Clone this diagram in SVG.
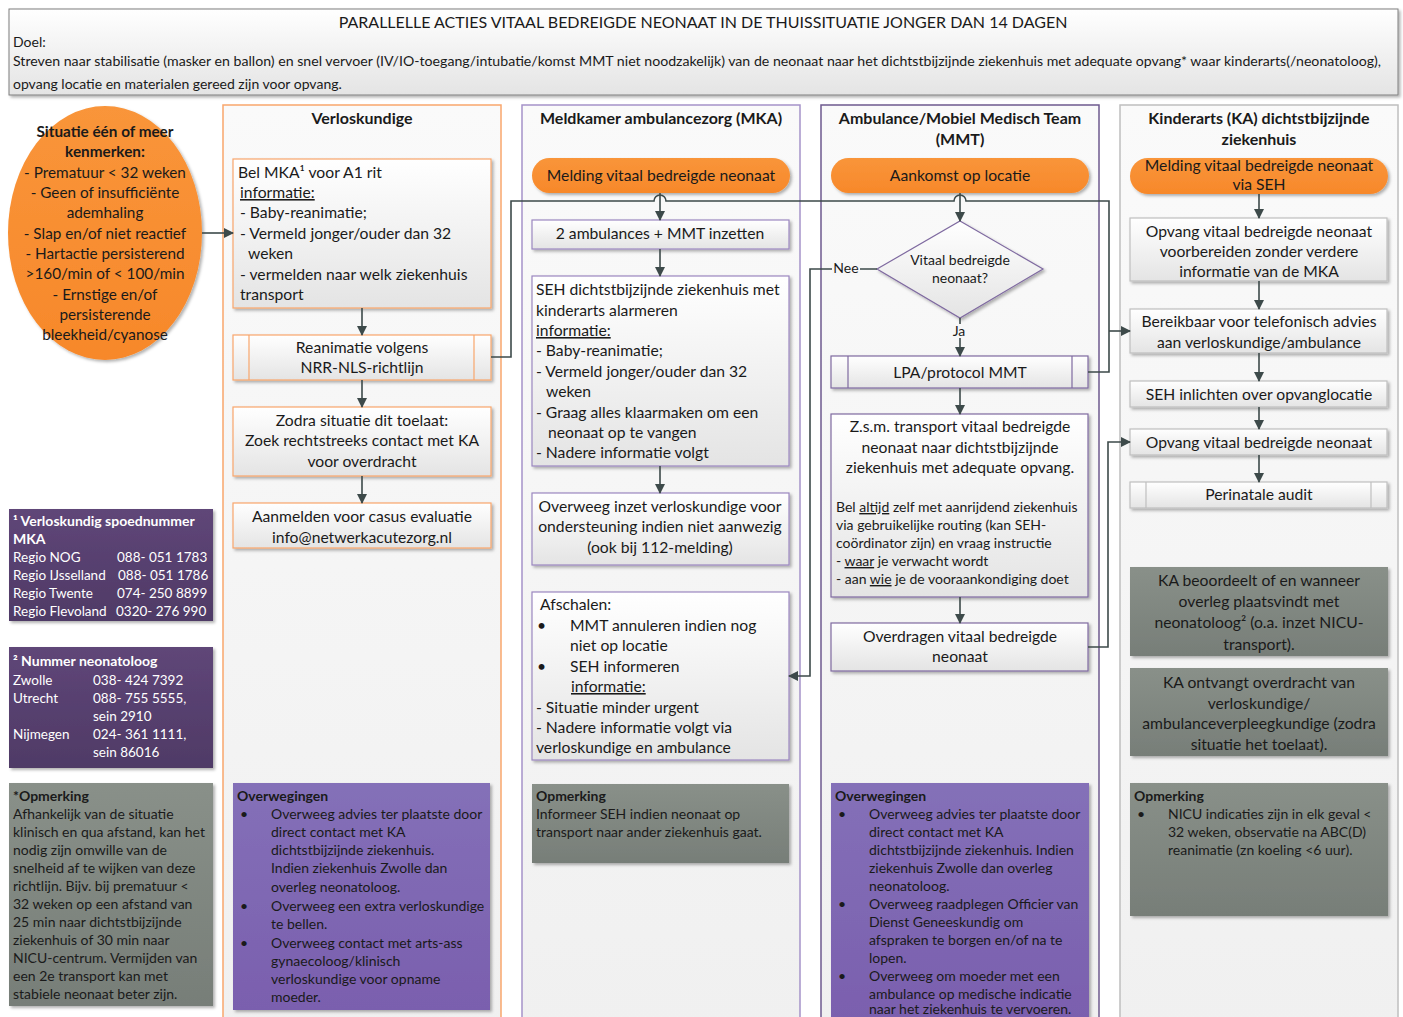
<svg xmlns="http://www.w3.org/2000/svg" width="1403" height="1017" viewBox="0 0 1403 1017">
<defs>
<linearGradient id="gBox" x1="0" y1="0" x2="0" y2="1"><stop offset="0" stop-color="#ffffff"/><stop offset="1" stop-color="#e4e4e4"/></linearGradient>
<linearGradient id="gLane" x1="0" y1="0" x2="0" y2="1"><stop offset="0" stop-color="#fafafa"/><stop offset="1" stop-color="#f0f0f0"/></linearGradient>
<linearGradient id="gOr" x1="0" y1="0" x2="0" y2="1"><stop offset="0" stop-color="#f9953a"/><stop offset="1" stop-color="#f7882a"/></linearGradient>
<linearGradient id="gPur" x1="0" y1="0" x2="0" y2="1"><stop offset="0" stop-color="#8470b8"/><stop offset="1" stop-color="#7a5fae"/></linearGradient>
<linearGradient id="gDark" x1="0" y1="0" x2="0" y2="1"><stop offset="0" stop-color="#5f4678"/><stop offset="1" stop-color="#4f3a66"/></linearGradient>
<linearGradient id="gGray" x1="0" y1="0" x2="0" y2="1"><stop offset="0" stop-color="#899089"/><stop offset="1" stop-color="#777e78"/></linearGradient>
<filter id="sh" x="-10%" y="-10%" width="130%" height="130%"><feDropShadow dx="2" dy="2" stdDeviation="1.5" flood-color="#000" flood-opacity="0.3"/></filter>
<marker id="ah" viewBox="0 0 10 10" refX="9" refY="5" markerWidth="10" markerHeight="10" markerUnits="userSpaceOnUse" orient="auto"><path d="M0,0 L10,5 L0,10 z" fill="#3d4a4a"/></marker>
</defs>
<style>
text{font-family:Lato,"Open Sans","Liberation Sans",sans-serif;fill:#1a1a1a;font-size:15.7px}
.c{text-anchor:middle}
.b{font-weight:bold}
.s{font-size:14px}
.lg{font-size:13.5px}
.e{font-size:15.3px}
.w{fill:#ffffff}
.u{text-decoration:underline}
.lane{fill:url(#gLane)}
.bo{fill:url(#gBox);stroke:#f9a66c;stroke-width:1.2;filter:url(#sh)}
.bp{fill:url(#gBox);stroke:#9b87c0;stroke-width:1.2;filter:url(#sh)}
.bm{fill:url(#gBox);stroke:#7f6aa0;stroke-width:1.2;filter:url(#sh)}
.bg{fill:url(#gBox);stroke:#bfbfbf;stroke-width:1.2;filter:url(#sh)}
.pill{fill:url(#gOr);filter:url(#sh)}
.np{fill:url(#gPur);filter:url(#sh)}
.nd{fill:url(#gDark);filter:url(#sh)}
.ng{fill:url(#gGray);filter:url(#sh)}
.cn{fill:none;stroke:#3d4a4a;stroke-width:1.6}
.ca{fill:none;stroke:#3d4a4a;stroke-width:1.6;marker-end:url(#ah)}
</style>
<rect width="1403" height="1017" fill="#ffffff"/>

<g id="title">
<rect x="9" y="9" width="1389" height="86" fill="url(#gBox)" stroke="#7f7f7f" stroke-width="1" filter="url(#sh)"/>
<text class="c" x="703" y="28" style="font-size:16px">PARALLELLE ACTIES VITAAL BEDREIGDE NEONAAT IN DE THUISSITUATIE JONGER DAN 14 DAGEN</text>
<text x="13" y="47" class="s">Doel:</text>
<text x="13" y="66" class="s" textLength="1368" lengthAdjust="spacingAndGlyphs">Streven naar stabilisatie (masker en ballon) en snel vervoer (IV/IO-toegang/intubatie/komst MMT niet noodzakelijk) van de neonaat naar het dichtstbijzijnde ziekenhuis met adequate opvang* waar kinderarts(/neonatoloog),</text>
<text x="13" y="89" class="s">opvang locatie en materialen gereed zijn voor opvang.</text>
</g>

<g id="lanes">
<rect class="lane" x="223" y="105" width="278" height="920" stroke="#f9a66c" stroke-width="1.5"/>
<text class="c b" x="362" y="124" style="font-size:16px">Verloskundige</text>
<rect class="lane" x="522" y="105" width="278" height="920" stroke="#a593c9" stroke-width="1.5"/>
<text class="c b" x="661" y="124" style="font-size:16px">Meldkamer ambulancezorg (MKA)</text>
<rect class="lane" x="821" y="105" width="278" height="920" stroke="#6e5a8e" stroke-width="1.5"/>
<text class="c b" x="960" y="124" style="font-size:16px">Ambulance/Mobiel Medisch Team</text>
<text class="c b" x="960" y="145" style="font-size:16px">(MMT)</text>
<rect class="lane" x="1120" y="105" width="278" height="920" stroke="#bfbfbf" stroke-width="1.5"/>
<text class="c b" x="1259" y="124" style="font-size:16px">Kinderarts (KA) dichtstbijzijnde</text>
<text class="c b" x="1259" y="145" style="font-size:16px">ziekenhuis</text>
</g>

<g id="n-situatie">
<ellipse cx="105" cy="233" rx="97" ry="127" fill="url(#gOr)" filter="url(#sh)"/>
<text class="c b e" x="105" y="137">Situatie één of meer</text>
<text class="c b e" x="105" y="157">kenmerken:</text>
<text class="c e" x="105" y="178">- Prematuur &lt; 32 weken</text>
<text class="c e" x="105" y="198">- Geen of insufficiënte</text>
<text class="c e" x="105" y="218">ademhaling</text>
<text class="c e" x="105" y="239">- Slap en/of niet reactief</text>
<text class="c e" x="105" y="259">- Hartactie persisterend</text>
<text class="c e" x="105" y="279">&gt;160/min of &lt; 100/min</text>
<text class="c e" x="105" y="300">- Ernstige en/of</text>
<text class="c e" x="105" y="320">persisterende</text>
<text class="c e" x="105" y="340">bleekheid/cyanose</text>
</g>

<g id="n-legend1">
<rect class="nd" x="9" y="509" width="204" height="112"/>
<text class="w b s" x="13" y="526">¹ Verloskundig spoednummer</text>
<text class="w b s" x="13" y="544">MKA</text>
<text class="w lg" x="13" y="562">Regio NOG</text><text class="w lg" x="117" y="562">088- 051 1783</text>
<text class="w lg" x="13" y="580">Regio IJsselland</text><text class="w lg" x="118" y="580">088- 051 1786</text>
<text class="w lg" x="13" y="598">Regio Twente</text><text class="w lg" x="117" y="598">074- 250 8899</text>
<text class="w lg" x="13" y="616">Regio Flevoland</text><text class="w lg" x="116" y="616">0320- 276 990</text>
</g>

<g id="n-legend2">
<rect class="nd" x="9" y="647" width="204" height="121"/>
<text class="w b s" x="13" y="666">² Nummer neonatoloog</text>
<text class="w lg" x="13" y="685">Zwolle</text><text class="w lg" x="93" y="685">038- 424 7392</text>
<text class="w lg" x="13" y="703">Utrecht</text><text class="w lg" x="93" y="703">088- 755 5555,</text>
<text class="w lg" x="93" y="721">sein 2910</text>
<text class="w lg" x="13" y="739">Nijmegen</text><text class="w lg" x="93" y="739">024- 361 1111,</text>
<text class="w lg" x="93" y="757">sein 86016</text>
</g>

<g id="n-opmerking-left">
<rect class="ng" x="9" y="783" width="204" height="223"/>
<text class="b s" x="13" y="801">*Opmerking</text>
<text class="s" x="13" y="819">Afhankelijk van de situatie</text>
<text class="s" x="13" y="837">klinisch en qua afstand, kan het</text>
<text class="s" x="13" y="855">nodig zijn omwille van de</text>
<text class="s" x="13" y="873">snelheid af te wijken van deze</text>
<text class="s" x="13" y="891">richtlijn. Bijv. bij prematuur &lt;</text>
<text class="s" x="13" y="909">32 weken op een afstand van</text>
<text class="s" x="13" y="927">25 min naar dichtstbijzijnde</text>
<text class="s" x="13" y="945">ziekenhuis of 30 min naar</text>
<text class="s" x="13" y="963">NICU-centrum. Vermijden van</text>
<text class="s" x="13" y="981">een 2e transport kan met</text>
<text class="s" x="13" y="999">stabiele neonaat beter zijn.</text>
</g>

<!-- Verloskundige -->
<g id="n-belmka">
<rect class="bo" x="233" y="159" width="258" height="149"/>
<text x="238" y="178">Bel MKA¹ voor A1 rit</text>
<text class="u" x="240" y="198">informatie:</text>
<text x="240" y="218">- Baby-reanimatie;</text>
<text x="240" y="239">- Vermeld jonger/ouder dan 32</text>
<text x="248" y="259">weken</text>
<text x="240" y="280">- vermelden naar welk ziekenhuis</text>
<text x="240" y="300">transport</text>
</g>
<g id="n-reanimatie">
<rect class="bo" x="233" y="335" width="258" height="45"/>
<line x1="249" y1="335" x2="249" y2="380" stroke="#f9a66c" stroke-width="1.2"/>
<line x1="474" y1="335" x2="474" y2="380" stroke="#f9a66c" stroke-width="1.2"/>
<text class="c" x="362" y="353">Reanimatie volgens</text>
<text class="c" x="362" y="373">NRR-NLS-richtlijn</text>
</g>
<g id="n-zodra">
<rect class="bo" x="233" y="407" width="258" height="69"/>
<text class="c" x="362" y="426">Zodra situatie dit toelaat:</text>
<text class="c" x="362" y="446">Zoek rechtstreeks contact met KA</text>
<text class="c" x="362" y="467">voor overdracht</text>
</g>
<g id="n-aanmelden">
<rect class="bo" x="233" y="503" width="258" height="45"/>
<text class="c" x="362" y="522">Aanmelden voor casus evaluatie</text>
<text class="c" x="362" y="543">info@netwerkacutezorg.nl</text>
</g>
<g id="n-overwegingen-vk">
<rect class="np" x="233" y="783" width="257" height="227"/>
<text class="b s" x="237" y="801">Overwegingen</text>
<text class="s" x="240" y="819">•</text><text class="s" x="271" y="819">Overweeg advies ter plaatste door</text>
<text class="s" x="271" y="837">direct contact met KA</text>
<text class="s" x="271" y="855">dichtstbijzijnde ziekenhuis.</text>
<text class="s" x="271" y="873">Indien ziekenhuis Zwolle dan</text>
<text class="s" x="271" y="892">overleg neonatoloog.</text>
<text class="s" x="240" y="911">•</text><text class="s" x="271" y="911">Overweeg een extra verloskundige</text>
<text class="s" x="271" y="929">te bellen.</text>
<text class="s" x="240" y="948">•</text><text class="s" x="271" y="948">Overweeg contact met arts-ass</text>
<text class="s" x="271" y="966">gynaecoloog/klinisch</text>
<text class="s" x="271" y="984">verloskundige voor opname</text>
<text class="s" x="271" y="1002">moeder.</text>
</g>

<!-- MKA -->
<g id="n-melding-mka">
<rect class="pill" x="532" y="158" width="258" height="35" rx="17.5"/>
<text class="c" x="661" y="181">Melding vitaal bedreigde neonaat</text>
</g>
<g id="n-ambulances">
<rect class="bp" x="532" y="220" width="257" height="29"/>
<text class="c" x="660" y="239">2 ambulances + MMT inzetten</text>
</g>
<g id="n-seh">
<rect class="bp" x="532" y="276" width="257" height="190"/>
<text x="536" y="295">SEH dichtstbijzijnde ziekenhuis met</text>
<text x="536" y="316">kinderarts alarmeren</text>
<text class="u" x="536" y="336">informatie:</text>
<text x="536" y="356">- Baby-reanimatie;</text>
<text x="536" y="377">- Vermeld jonger/ouder dan 32</text>
<text x="546" y="397">weken</text>
<text x="536" y="418">- Graag alles klaarmaken om een</text>
<text x="548" y="438">neonaat op te vangen</text>
<text x="536" y="458">- Nadere informatie volgt</text>
</g>
<g id="n-overweeg-inzet">
<rect class="bp" x="532" y="493" width="257" height="72"/>
<text class="c" x="660" y="512">Overweeg inzet verloskundige voor</text>
<text class="c" x="660" y="532">ondersteuning indien niet aanwezig</text>
<text class="c" x="660" y="553">(ook bij 112-melding)</text>
</g>
<g id="n-afschalen">
<rect class="bp" x="532" y="592" width="257" height="168"/>
<text x="540" y="610">Afschalen:</text>
<text x="537" y="631">•</text><text x="570" y="631">MMT annuleren indien nog</text>
<text x="570" y="651">niet op locatie</text>
<text x="537" y="672">•</text><text x="570" y="672">SEH informeren</text>
<text class="u" x="571" y="692">informatie:</text>
<text x="536" y="713">- Situatie minder urgent</text>
<text x="536" y="733">- Nadere informatie volgt via</text>
<text x="536" y="753">verloskundige en ambulance</text>
</g>
<g id="n-opmerking-mka">
<rect class="ng" x="532" y="784" width="257" height="79"/>
<text class="b s" x="536" y="801">Opmerking</text>
<text class="s" x="536" y="819">Informeer SEH indien neonaat op</text>
<text class="s" x="536" y="837">transport naar ander ziekenhuis gaat.</text>
</g>

<!-- MMT -->
<g id="n-aankomst">
<rect class="pill" x="831" y="158" width="258" height="35" rx="17.5"/>
<text class="c" x="960" y="181">Aankomst op locatie</text>
</g>
<g id="n-vitaal">
<polygon points="960,221 1043,269 960,318 877,269" fill="url(#gBox)" stroke="#7f6aa0" stroke-width="1.2" filter="url(#sh)"/>
<text class="c s" x="960" y="265">Vitaal bedreigde</text>
<text class="c s" x="960" y="283">neonaat?</text>
</g>
<g id="n-lpa">
<rect class="bm" x="831" y="356" width="257" height="32"/>
<line x1="848" y1="356" x2="848" y2="388" stroke="#7f6aa0" stroke-width="1.2"/>
<line x1="1072" y1="356" x2="1072" y2="388" stroke="#7f6aa0" stroke-width="1.2"/>
<text class="c" x="960" y="378">LPA/protocol MMT</text>
</g>
<g id="n-transport">
<rect class="bm" x="831" y="414" width="257" height="183"/>
<text class="c" x="960" y="432">Z.s.m. transport vitaal bedreigde</text>
<text class="c" x="960" y="453">neonaat naar dichtstbijzijnde</text>
<text class="c" x="960" y="473">ziekenhuis met adequate opvang.</text>
<text class="s" x="836" y="512">Bel <tspan class="u">altijd</tspan> zelf met aanrijdend ziekenhuis</text>
<text class="s" x="836" y="530">via gebruikelijke routing (kan SEH-</text>
<text class="s" x="836" y="548">coördinator zijn) en vraag instructie</text>
<text class="s" x="836" y="566">- <tspan class="u">waar</tspan> je verwacht wordt</text>
<text class="s" x="836" y="584">- aan <tspan class="u">wie</tspan> je de vooraankondiging doet</text>
</g>
<g id="n-overdragen">
<rect class="bm" x="831" y="623" width="257" height="48"/>
<text class="c" x="960" y="642">Overdragen vitaal bedreigde</text>
<text class="c" x="960" y="662">neonaat</text>
</g>
<g id="n-overwegingen-mmt">
<rect class="np" x="831" y="783" width="258" height="240"/>
<text class="b s" x="835" y="801">Overwegingen</text>
<text class="s" x="838" y="819">•</text><text class="s" x="869" y="819">Overweeg advies ter plaatste door</text>
<text class="s" x="869" y="837">direct contact met KA</text>
<text class="s" x="869" y="855">dichtstbijzijnde ziekenhuis. Indien</text>
<text class="s" x="869" y="873">ziekenhuis Zwolle dan overleg</text>
<text class="s" x="869" y="891">neonatoloog.</text>
<text class="s" x="838" y="909">•</text><text class="s" x="869" y="909">Overweeg raadplegen Officier van</text>
<text class="s" x="869" y="927">Dienst Geneeskundig om</text>
<text class="s" x="869" y="945">afspraken te borgen en/of na te</text>
<text class="s" x="869" y="963">lopen.</text>
<text class="s" x="838" y="981">•</text><text class="s" x="869" y="981">Overweeg om moeder met een</text>
<text class="s" x="869" y="999">ambulance op medische indicatie</text>
<text class="s" x="869" y="1014">naar het ziekenhuis te vervoeren.</text>
</g>

<!-- KA -->
<g id="n-melding-ka">
<rect class="pill" x="1130" y="158" width="258" height="36" rx="18"/>
<text class="c" x="1259" y="171">Melding vitaal bedreigde neonaat</text>
<text class="c" x="1259" y="190">via SEH</text>
</g>
<g id="n-opvang-voorbereiden">
<rect class="bg" x="1130" y="218" width="257" height="63"/>
<text class="c" x="1259" y="237">Opvang vitaal bedreigde neonaat</text>
<text class="c" x="1259" y="257">voorbereiden zonder verdere</text>
<text class="c" x="1259" y="277">informatie van de MKA</text>
</g>
<g id="n-bereikbaar">
<rect class="bg" x="1130" y="309" width="257" height="44"/>
<text class="c" x="1259" y="327">Bereikbaar voor telefonisch advies</text>
<text class="c" x="1259" y="348">aan verloskundige/ambulance</text>
</g>
<g id="n-seh-inlichten">
<rect class="bg" x="1130" y="381" width="257" height="26"/>
<text class="c" x="1259" y="400">SEH inlichten over opvanglocatie</text>
</g>
<g id="n-opvang">
<rect class="bg" x="1130" y="429" width="257" height="26"/>
<text class="c" x="1259" y="448">Opvang vitaal bedreigde neonaat</text>
</g>
<g id="n-audit">
<rect class="bg" x="1130" y="482" width="257" height="26"/>
<line x1="1146" y1="482" x2="1146" y2="508" stroke="#bfbfbf" stroke-width="1.2"/>
<line x1="1371" y1="482" x2="1371" y2="508" stroke="#bfbfbf" stroke-width="1.2"/>
<text class="c" x="1259" y="500">Perinatale audit</text>
</g>
<g id="n-ka-beoordeelt">
<rect class="ng" x="1130" y="567" width="258" height="89"/>
<text class="c" x="1259" y="586">KA beoordeelt of en wanneer</text>
<text class="c" x="1259" y="607">overleg plaatsvindt met</text>
<text class="c" x="1259" y="628">neonatoloog² (o.a. inzet NICU-</text>
<text class="c" x="1259" y="650">transport).</text>
</g>
<g id="n-ka-ontvangt">
<rect class="ng" x="1130" y="668" width="258" height="88"/>
<text class="c" x="1259" y="688">KA ontvangt overdracht van</text>
<text class="c" x="1259" y="709">verloskundige/</text>
<text class="c" x="1259" y="729">ambulanceverpleegkundige (zodra</text>
<text class="c" x="1259" y="750">situatie het toelaat).</text>
</g>
<g id="n-opmerking-ka">
<rect class="ng" x="1130" y="783" width="258" height="133"/>
<text class="b s" x="1134" y="801">Opmerking</text>
<text class="s" x="1137" y="819">•</text><text class="s" x="1168" y="819">NICU indicaties zijn in elk geval &lt;</text>
<text class="s" x="1168" y="837">32 weken, observatie na ABC(D)</text>
<text class="s" x="1168" y="855">reanimatie (zn koeling &lt;6 uur).</text>
</g>

<g id="connectors">
<path class="ca" d="M202,233 H233"/>
<path class="ca" d="M362,308 V335"/>
<path class="ca" d="M362,380 V407"/>
<path class="ca" d="M362,476 V503"/>
<path class="ca" d="M660,193 V220"/>
<path class="ca" d="M660,249 V276"/>
<path class="ca" d="M660,466 V493"/>
<path class="ca" d="M960,193 V221"/>
<path class="ca" d="M960,318 V356"/>
<path class="ca" d="M960,388 V414"/>
<path class="ca" d="M960,597 V623"/>
<path class="ca" d="M1259,194 V218"/>
<path class="ca" d="M1259,281 V309"/>
<path class="ca" d="M1259,353 V381"/>
<path class="ca" d="M1259,407 V429"/>
<path class="ca" d="M1259,455 V482"/>
<path class="cn" d="M491,357 H511 V201 H654 A6,6 0 0 1 666,201 H954 A6,6 0 0 1 966,201 H1109 V372 H1088"/>
<path class="ca" d="M1109,331 H1130"/>
<path class="ca" d="M877,269 H810 V676 H789"/>
<path class="ca" d="M1088,647 H1108 V442 H1130"/>
<rect x="832" y="262" width="28" height="14" fill="#f7f7f7"/>
<text class="s" x="846" y="273" style="text-anchor:middle">Nee</text>
<rect x="950" y="324" width="19" height="14" fill="#f7f7f7"/>
<text class="s" x="959" y="336" style="text-anchor:middle">Ja</text>
</g>
</svg>
